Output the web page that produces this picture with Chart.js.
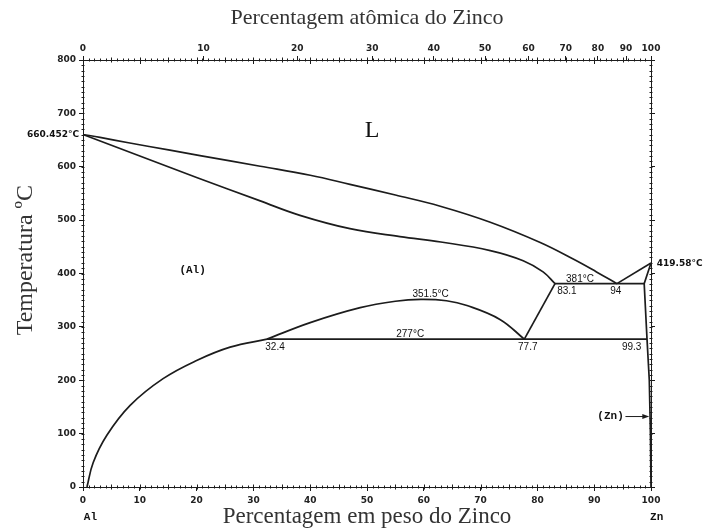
<!DOCTYPE html>
<html>
<head>
<meta charset="utf-8">
<script src="https://cdn.jsdelivr.net/npm/chart.js@4.4.0/dist/chart.umd.min.js"></script>
<style>
  html, body { margin: 0; padding: 0; background: #fff; }
  #wrap { width: 703px; height: 529px; }
</style>
</head>
<body>
<div id="wrap"><canvas id="diagram"></canvas></div>
<script>
// tick labels
const weightTicks = [0, 10, 20, 30, 40, 50, 60, 70, 80, 90, 100];
const atomicTicks = [0, 10, 20, 30, 40, 50, 60, 70, 80, 90, 100];
const tempTicks = [0, 100, 200, 300, 400, 500, 600, 700, 800];

// liquidus of (Al), wt% Zn / degC
const liquidusWt = [0, 3, 8, 15.3, 20.6, 31.2, 40, 47, 55, 62.9, 71.7, 80.5, 86.3, 90.4, 94];
const liquidusT = [660.452, 655, 645, 631, 621, 601, 584, 567, 547, 526, 496, 458, 427, 403, 381];

// solidus of (Al)
const solidusWt = [0, 10, 20, 31.2, 38.2, 47, 55.8, 63, 71.7, 77.5, 81, 83.1];
const solidusT = [660.452, 620, 580, 536, 509, 484, 469, 459, 443, 424, 403, 381];

// solvus of (Al)
const solvusWt = [0.7, 1.8, 4.2, 8.3, 14.1, 20, 25.9, 32.4];
const solvusT = [0, 46, 97, 153, 203, 237, 262, 277];

// miscibility gap
const gapWt = [32.4, 40, 48.8, 55, 59.5, 64, 67.6, 73.4, 77.7];
const gapT = [277, 308, 336, 348, 351.5, 349, 340, 314, 277];

// straight boundaries
const monotecticWt = [83.1, 98.8];   // 381 degC
const monotecticT = [381, 381];
const eutectoidWt = [32.4, 99.3];    // 277 degC
const eutectoidT = [277, 277];
const alphaPrimeWt = [83.1, 77.7];
const alphaPrimeT = [381, 277];
const znLiquidusWt = [94, 100];
const znLiquidusT = [381, 419.58];
const znSolidusWt = [100, 98.8, 99.3, 99.7, 99.9, 100];
const znSolidusT = [419.58, 381, 277, 200, 100, 0];

// text on the diagram
const notes = [
  { text: 'L', x: 50.9, t: 668, font: '24px "Liberation Serif"', align: 'center' },
  { text: '(Al)', x: 19.3, t: 407, font: 'bold 11px "Liberation Mono"', align: 'center' },
  { text: '351.5°C', x: 61.2, t: 362, font: '10px "Liberation Sans"', align: 'center' },
  { text: '277°C', x: 57.6, t: 287, font: '10px "Liberation Sans"', align: 'center' },
  { text: '32.4', x: 33.8, t: 261, font: '10px "Liberation Sans"', align: 'center' },
  { text: '77.7', x: 78.3, t: 261, font: '10px "Liberation Sans"', align: 'center' },
  { text: '99.3', x: 96.6, t: 262, font: '10px "Liberation Sans"', align: 'center' },
  { text: '381°C', x: 87.5, t: 390, font: '10px "Liberation Sans"', align: 'center' },
  { text: '83.1', x: 85.2, t: 367, font: '10px "Liberation Sans"', align: 'center' },
  { text: '94', x: 93.8, t: 367, font: '10px "Liberation Sans"', align: 'center' },
  { text: '419.58°C', x: 101, t: 419, font: 'bold 9px "DejaVu Sans"', align: 'left' },
  { text: '660.452°C', x: -0.7, t: 660.452, font: 'bold 9px "DejaVu Sans"', align: 'right' },
  { text: '(Zn)', x: 95.2, t: 132, font: 'bold 11px "Liberation Mono"', align: 'right' },
  { text: 'Al', x: 1.3, t: -56, font: 'bold 11px "Liberation Mono"', align: 'center' },
  { text: 'Zn', x: 101, t: -56, font: 'bold 11px "Liberation Mono"', align: 'center' }
];
const yTitle = 'Temperatura ºC';

const ZN = 65.38, AL = 26.98;
function atToWt(a) { return 100 * a * ZN / (a * ZN + (100 - a) * AL); }
function pts(xs, ys) { return xs.map((x, i) => ({ x: x, y: ys[i] })); }

const ink = '#1c1c1c';
const tickFont = { family: 'DejaVu Sans', size: 9, weight: 'bold' };

function curve(xs, ys, smooth) {
  return {
    data: pts(xs, ys),
    showLine: true,
    borderColor: ink,
    borderWidth: 1.7,
    pointRadius: 0,
    tension: smooth ? 0.4 : 0,
    clip: false
  };
}

const marks = {
  id: 'marks',
  afterDraw(chart) {
    const { ctx, chartArea: a, scales } = chart;
    const x = scales.x, y = scales.y;
    ctx.save();
    ctx.strokeStyle = ink;
    ctx.lineWidth = 1;
    ctx.beginPath();
    for (let w = 0; w <= 100; w++) {
      const px = Math.round(x.getPixelForValue(w)) + 0.5;
      const len = w % 5 === 0 ? 2.5 : 1.5;
      ctx.moveTo(px, a.bottom - len); ctx.lineTo(px, a.bottom + len);
      ctx.moveTo(px, a.top - len); ctx.lineTo(px, a.top + len);
    }
    weightTicks.forEach(w => {
      const px = Math.round(x.getPixelForValue(w)) + 0.5;
      ctx.moveTo(px, a.top); ctx.lineTo(px, a.top + 4);
    });
    for (let t = 0; t <= 800; t += 10) {
      const py = Math.round(y.getPixelForValue(t)) + 0.5;
      ctx.moveTo(a.left - 1.5, py); ctx.lineTo(a.left + 1.5, py);
      ctx.moveTo(a.right - 1.5, py); ctx.lineTo(a.right + 1.5, py);
    }
    ctx.stroke();

    // arrow to (Zn)
    const ay = y.getPixelForValue(132);
    const x0 = x.getPixelForValue(95.5), x1 = x.getPixelForValue(99.7);
    ctx.beginPath();
    ctx.moveTo(x0, ay); ctx.lineTo(x1 - 5, ay);
    ctx.stroke();
    ctx.beginPath();
    ctx.moveTo(x1, ay); ctx.lineTo(x1 - 7, ay - 2.5); ctx.lineTo(x1 - 7, ay + 2.5);
    ctx.closePath();
    ctx.fillStyle = ink;
    ctx.fill();

    ctx.fillStyle = '#111';
    ctx.textBaseline = 'middle';
    notes.forEach(n => {
      ctx.font = n.font;
      ctx.textAlign = n.align;
      ctx.fillText(n.text, x.getPixelForValue(n.x), y.getPixelForValue(n.t));
    });

    // y axis title
    ctx.save();
    ctx.translate(26, y.getPixelForValue(425));
    ctx.rotate(-Math.PI / 2);
    ctx.font = '24px "Liberation Serif"';
    ctx.fillStyle = '#333';
    ctx.textAlign = 'center';
    ctx.fillText(yTitle, 0, 0);
    ctx.restore();
    ctx.restore();
  }
};

new Chart(document.getElementById('diagram'), {
  type: 'scatter',
  data: {
    datasets: [
      curve(liquidusWt, liquidusT, true),
      curve(solidusWt, solidusT, true),
      curve(solvusWt, solvusT, true),
      curve(gapWt, gapT, true),
      curve(monotecticWt, monotecticT, false),
      curve(eutectoidWt, eutectoidT, false),
      curve(alphaPrimeWt, alphaPrimeT, false),
      curve(znLiquidusWt, znLiquidusT, false),
      curve(znSolidusWt, znSolidusT, false)
    ]
  },
  options: {
    responsive: true,
    maintainAspectRatio: false,
    animation: false,
    layout: { padding: 0 },
    plugins: { legend: { display: false }, tooltip: { enabled: false } },
    scales: {
      x: {
        type: 'linear', position: 'bottom', min: 0, max: 100,
        afterFit: s => { s.height = 42; },
        afterBuildTicks: s => { s.ticks = weightTicks.map(v => ({ value: v })); },
        ticks: { font: tickFont, color: '#222', padding: 4, maxRotation: 0, autoSkip: false },
        grid: { drawOnChartArea: false, tickLength: 4, color: ink },
        border: { color: ink, width: 1 },
        title: { display: true, text: 'Percentagem em peso do Zinco',
          font: { family: 'Liberation Serif', size: 23 }, color: '#333', padding: { top: 0, bottom: -2 } }
      },
      x2: {
        type: 'linear', position: 'top', min: 0, max: 100,
        afterFit: s => { s.height = 60; },
        afterBuildTicks: s => { s.ticks = atomicTicks.map(a => ({ value: atToWt(a) })); },
        ticks: { font: tickFont, color: '#222', padding: 2, maxRotation: 0, autoSkip: false,
          callback: (v, i) => atomicTicks[i] },
        grid: { drawOnChartArea: false, tickLength: 4, color: ink },
        border: { color: ink, width: 1 },
        title: { display: true, text: 'Percentagem atômica do Zinco',
          font: { family: 'Liberation Serif', size: 22 }, color: '#333', padding: { top: 5, bottom: 0 } }
      },
      y: {
        type: 'linear', position: 'left', min: 0, max: 800,
        afterFit: s => { s.width = 83; },
        afterBuildTicks: s => { s.ticks = tempTicks.map(v => ({ value: v })); },
        ticks: { font: tickFont, color: '#222', padding: 3 },
        grid: { drawOnChartArea: false, tickLength: 4, color: ink },
        border: { color: ink, width: 1 }
      },
      y2: {
        type: 'linear', position: 'right', min: 0, max: 800,
        afterFit: s => { s.width = 52; },
        afterBuildTicks: s => { s.ticks = tempTicks.map(v => ({ value: v })); },
        ticks: { display: false },
        grid: { drawOnChartArea: false, tickLength: 4, color: ink },
        border: { color: ink, width: 1 }
      }
    }
  },
  plugins: [marks]
});
</script>
</body>
</html>
